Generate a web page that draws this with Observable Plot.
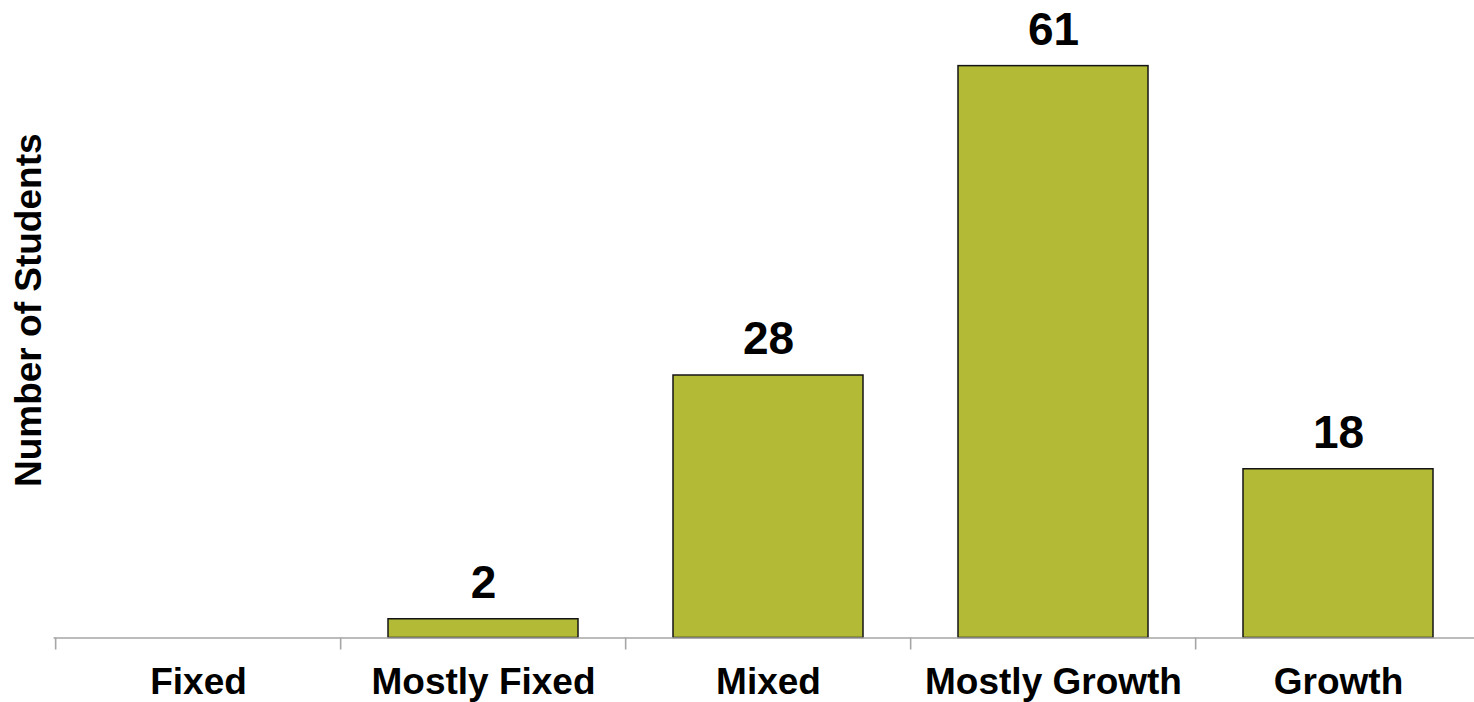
<!DOCTYPE html>
<html>
<head>
<meta charset="utf-8">
<script src="https://cdn.jsdelivr.net/npm/d3@7"></script>
<script src="https://cdn.jsdelivr.net/npm/@observablehq/plot@0.6"></script>
<style>
  html, body { margin: 0; padding: 0; background: #ffffff; }
  #chart svg { display: block; }
</style>
</head>
<body>
<div id="chart"></div>
<script>
// Mindset categories and the number of students in each
const categories = ["Fixed", "Mostly Fixed", "Mixed", "Mostly Growth", "Growth"];
const counts = [0, 2, 28, 61, 18];
const axisTitle = "Number of Students";

const rows = categories.map((category, i) => ({category, count: counts[i]}));
const shown = rows.filter(d => d.count > 0);

const width = 1474;
const height = 702;
const xRange = [53.5, 1482];
const step = (xRange[1] - xRange[0]) / categories.length;
const font = "'Liberation Sans', Arial, sans-serif";

const chart = Plot.plot({
  width,
  height,
  marginTop: 0,
  marginBottom: 64.5,
  marginLeft: 53.5,
  marginRight: 0,
  style: {fontFamily: font, background: "#ffffff", overflow: "visible"},
  x: {domain: categories, range: xRange, paddingInner: 0.335, paddingOuter: 0.1675, label: null},
  y: {domain: [0, 68], axis: null},
  marks: [
    Plot.barY(shown, {
      x: "category",
      y: "count",
      fill: "#b3ba36",
      stroke: "#141414",
      strokeWidth: 1.5
    }),
    Plot.ruleY([0], {stroke: "#a6a6a6", strokeWidth: 1.6}),
    // tick marks on the boundaries between categories
    Plot.axisX({
      tickSize: 12,
      tickFormat: () => "",
      stroke: "#a6a6a6",
      strokeWidth: 1.6,
      dx: -step / 2,
      label: null
    }),
    // category labels
    Plot.axisX({
      tickSize: 0,
      tickPadding: 29.7,
      fontSize: 37,
      fontWeight: "bold",
      fill: "#000000",
      label: null
    }),
    Plot.text(shown, {
      x: "category",
      y: "count",
      text: d => String(d.count),
      lineAnchor: "bottom",
      dy: -21.5,
      fontSize: 46,
      fontWeight: "bold",
      fill: "#000000"
    }),
    Plot.text([axisTitle], {
      frameAnchor: "left",
      rotate: -90,
      text: d => d,
      lineAnchor: "bottom",
      textAnchor: "middle",
      dx: -13.5,
      dy: -9,
      fontSize: 37,
      fontWeight: "bold",
      fill: "#000000"
    })
  ]
});

document.getElementById("chart").appendChild(chart);
</script>
</body>
</html>
